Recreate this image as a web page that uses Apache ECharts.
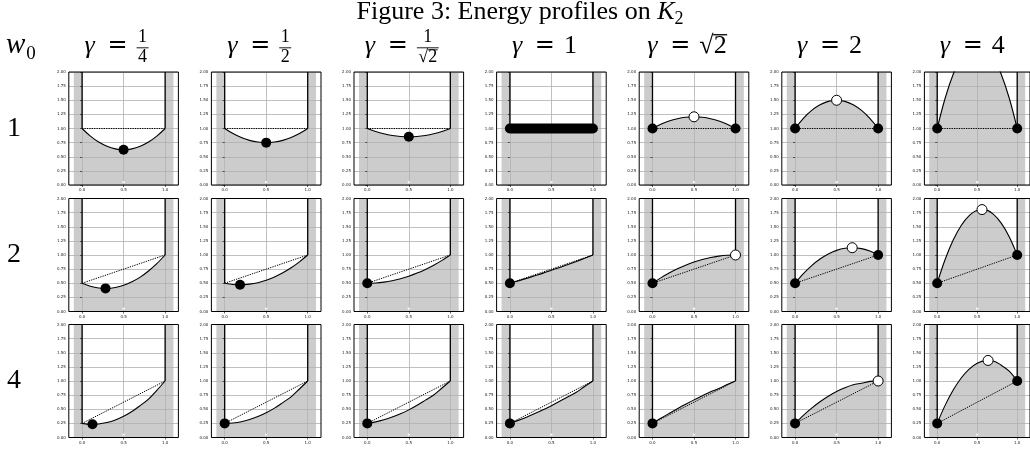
<!DOCTYPE html>
<html>
<head>
<meta charset="utf-8">
<title>Energy profiles on K2</title>
<script src="https://cdn.jsdelivr.net/npm/echarts@6/dist/echarts.min.js"></script>
<style>
  html, body { margin: 0; padding: 0; background: #fff; }
  #chart { width: 1030px; height: 449px; }
</style>
</head>
<body>
<div id="chart"></div>
<script>
// column / row headers
const gammaLabels = ['1/4', '1/2', '1/√2', '1', '√2', '2', '4']
const w0Labels = ['1', '2', '4']

// ticks
const xTicks = [0, 0.5, 1]
const yTicks = [0, 0.25, 0.5, 0.75, 1, 1.25, 1.5, 1.75, 2]
const xRange = [-0.16, 1.16]
const yRange = [0, 2]
const sideBands = [[-0.1, 0], [1, 1.1]]
const tickDot = [[0.5, 0.05]]

// sample positions of every profile
const xs = [0, 0.1, 0.2, 0.3, 0.4, 0.5, 0.6, 0.7, 0.8, 0.9, 1]

// energy profiles, one array per gamma
const energyW1 = [
  [1, 0.865, 0.76, 0.685, 0.64, 0.625, 0.64, 0.685, 0.76, 0.865, 1],
  [1, 0.91, 0.84, 0.79, 0.76, 0.75, 0.76, 0.79, 0.84, 0.91, 1],
  [1, 0.947, 0.906, 0.877, 0.859, 0.854, 0.859, 0.877, 0.906, 0.947, 1],
  [1, 1, 1, 1, 1, 1, 1, 1, 1, 1, 1],
  [1, 1.075, 1.133, 1.174, 1.199, 1.207, 1.199, 1.174, 1.133, 1.075, 1],
  [1, 1.18, 1.32, 1.42, 1.48, 1.5, 1.48, 1.42, 1.32, 1.18, 1],
  [1, 1.54, 1.96, 2.26, 2.44, 2.5, 2.44, 2.26, 1.96, 1.54, 1]
]
const energyW2 = [
  [0.5, 0.447, 0.417, 0.409, 0.425, 0.463, 0.525, 0.609, 0.717, 0.847, 1],
  [0.5, 0.479, 0.473, 0.484, 0.51, 0.552, 0.61, 0.684, 0.773, 0.879, 1],
  [0.5, 0.505, 0.52, 0.545, 0.58, 0.625, 0.68, 0.745, 0.82, 0.905, 1],
  [0.5, 0.542, 0.586, 0.632, 0.679, 0.729, 0.779, 0.832, 0.886, 0.942, 1],
  [0.5, 0.595, 0.68, 0.755, 0.82, 0.875, 0.92, 0.955, 0.98, 0.995, 1],
  [0.5, 0.67, 0.813, 0.929, 1.019, 1.082, 1.119, 1.129, 1.113, 1.07, 1],
  [0.5, 0.924, 1.265, 1.523, 1.698, 1.789, 1.798, 1.723, 1.565, 1.324, 1]
]
const energyW4 = [
  [0.25, 0.235, 0.24, 0.265, 0.31, 0.375, 0.46, 0.565, 0.68, 0.835, 1],
  [0.25, 0.258, 0.28, 0.318, 0.37, 0.438, 0.52, 0.618, 0.72, 0.858, 1],
  [0.25, 0.276, 0.313, 0.361, 0.42, 0.489, 0.57, 0.661, 0.753, 0.876, 1],
  [0.25, 0.303, 0.36, 0.423, 0.49, 0.563, 0.64, 0.723, 0.8, 0.903, 1],
  [0.25, 0.34, 0.426, 0.51, 0.589, 0.666, 0.739, 0.81, 0.866, 0.94, 1],
  [0.25, 0.393, 0.52, 0.633, 0.73, 0.813, 0.88, 0.933, 0.96, 0.993, 1],
  [0.25, 0.573, 0.84, 1.053, 1.21, 1.313, 1.36, 1.353, 1.28, 1.173, 1]
]

// local minima (black) and maxima (white)
const minW1 = [[[0.5, 0.625]], [[0.5, 0.75]], [[0.5, 0.854]], [], [[0, 1], [1, 1]], [[0, 1], [1, 1]], [[0, 1], [1, 1]]]
const maxW1 = [[], [], [], [], [[0.5, 1.207]], [[0.5, 1.5]], [[0.5, 2.5]]]
const minW2 = [[[0.282, 0.409]], [[0.185, 0.473]], [[0, 0.5]], [[0, 0.5]], [[0, 0.5]], [[0, 0.5], [1, 1]], [[0, 0.5], [1, 1]]]
const maxW2 = [[], [], [], [], [[1, 1]], [[0.688, 1.129]], [[0.56, 1.804]]]
const minW4 = [[[0.125, 0.234]], [[0, 0.25]], [[0, 0.25]], [[0, 0.25]], [[0, 0.25]], [[0, 0.25]], [[0, 0.25], [1, 1]]]
const maxW4 = [[], [], [], [], [], [[1, 1]], [[0.636, 1.364]]]
// whole segment is minimal (gamma = 1, w0 = 1)
const segMinW1 = [[], [], [], [[0, 1], [1, 1]], [], [], []]

const energyRows = [energyW1, energyW2, energyW4]
const minRows = [minW1, minW2, minW4]
const maxRows = [maxW1, maxW2, maxW4]
const segRows = [segMinW1, [], []]

// layout
const PANEL_X0 = 68.8
const COL_STEP = 142.6
const PANEL_W = 109.6
const PANEL_H = 113
const ROW_TOPS = [72, 198.5, 324.5]
const FILL = '#cccccc'
const SERIF = '"Liberation Serif", "DejaVu Serif", serif'
const MATH_EQ = '"DejaVu Serif", serif'
const SMOOTH = 0.35

const grids = []
const xAxes = []
const yAxes = []
const series = []

const tickLabel = { fontSize: 4, color: '#222', fontFamily: 'DejaVu Sans', margin: 3 }

energyRows.forEach((row, r) => {
  row.forEach((vals, c) => {
    const i = grids.length
    grids.push({
      left: PANEL_X0 + COL_STEP * c,
      top: ROW_TOPS[r],
      width: PANEL_W,
      height: PANEL_H,
      show: true,
      borderColor: '#000',
      borderWidth: 1,
      backgroundColor: 'transparent',
      z: 10
    })
    xAxes.push({
      gridIndex: i,
      type: 'value',
      min: xRange[0],
      max: xRange[1],
      z: 3,
      axisLine: { show: false },
      axisTick: { show: true, customValues: xTicks, length: 2, lineStyle: { color: '#000', width: 0.6 } },
      axisLabel: Object.assign({ customValues: xTicks, formatter: v => v.toFixed(1) }, tickLabel),
      splitLine: { show: true, lineStyle: { color: '#b0b0b0', width: 0.8 } }
    })
    yAxes.push({
      gridIndex: i,
      type: 'value',
      min: yRange[0],
      max: yRange[1],
      z: 3,
      axisLine: { show: false },
      axisTick: { show: true, customValues: yTicks, length: 2, lineStyle: { color: '#000', width: 0.6 } },
      axisLabel: Object.assign({ customValues: yTicks, formatter: v => v.toFixed(2) }, tickLabel),
      splitLine: { show: true, lineStyle: { color: '#b0b0b0', width: 0.8 } }
    })

    const pts = xs.map((x, k) => [x, vals[k]])
    const first = pts[0]
    const last = pts[pts.length - 1]
    const ax = { xAxisIndex: i, yAxisIndex: i, silent: true, animation: false }

    // grey region under the profile + side bands
    series.push(Object.assign({
      type: 'line',
      data: pts,
      smooth: SMOOTH,
      symbol: 'none',
      lineStyle: { width: 0 },
      areaStyle: { color: FILL, opacity: 1 },
      z: 1,
      markArea: {
        silent: true,
        itemStyle: { color: FILL },
        data: sideBands.map(b => [{ xAxis: b[0] }, { xAxis: b[1] }])
      }
    }, ax))
    // profile curve
    series.push(Object.assign({
      type: 'line',
      data: pts,
      smooth: SMOOTH,
      symbol: 'none',
      lineStyle: { color: '#000', width: 1.1 },
      z: 5
    }, ax))
    // walls
    series.push(Object.assign({
      type: 'line', data: [[first[0], yRange[1]], first], symbol: 'none',
      lineStyle: { color: '#000', width: 1.3 }, z: 5
    }, ax))
    series.push(Object.assign({
      type: 'line', data: [last, [last[0], yRange[1]]], symbol: 'none',
      lineStyle: { color: '#000', width: 1.3 }, z: 5
    }, ax))
    // chord
    series.push(Object.assign({
      type: 'line', data: [first, last], symbol: 'none',
      lineStyle: { color: '#000', width: 1, type: [1.3, 1.1] }, z: 4
    }, ax))
    // minima / maxima
    const seg = segRows[r][c]
    if (seg && seg.length) {
      series.push(Object.assign({
        type: 'line', data: seg, symbol: 'none',
        lineStyle: { color: '#000', width: 10, cap: 'round' }, z: 6
      }, ax))
    }
    series.push(Object.assign({
      type: 'scatter', data: minRows[r][c], symbolSize: 10,
      itemStyle: { color: '#000', opacity: 1 }, z: 6
    }, ax))
    series.push(Object.assign({
      type: 'scatter', data: maxRows[r][c], symbolSize: 10,
      itemStyle: { color: '#fff', borderColor: '#000', borderWidth: 1, opacity: 1 }, z: 6
    }, ax))
    series.push(Object.assign({
      type: 'scatter', data: tickDot, symbol: 'rect', symbolSize: 2.2,
      itemStyle: { color: '#f4f4f4', opacity: 1 }, z: 6
    }, ax))
  })
})

// ---- text (title, headers, row labels) ----
const mctx = document.createElement('canvas').getContext('2d')
function fnt(size, italic, fam) {
  return (italic ? 'italic ' : '') + size + 'px ' + (fam || SERIF)
}
function textW(t, size, italic, fam) {
  mctx.font = fnt(size, italic, fam)
  return mctx.measureText(t).width
}
function txt(t, x, base, size, italic, align, fam) {
  return {
    type: 'text', x: x, y: base - size * 0.33, silent: true, z: 20,
    style: {
      text: t, font: fnt(size, italic, fam), fill: '#000',
      align: align || 'left', verticalAlign: 'middle',
      textAlign: align || 'left', textVerticalAlign: 'middle'
    }
  }
}
function hline(x1, x2, y, w) {
  return {
    type: 'line', silent: true, z: 20,
    shape: { x1: x1, y1: y, x2: x2, y2: y },
    style: { stroke: '#000', lineWidth: w || 0.9 }
  }
}
// number that may start with a radical sign
function radEls(t, x, base, size) {
  if (t[0] !== '√') return [txt(t, x, base, size, false)]
  const rw = textW('√', size, false)
  const bw = textW(t.slice(1), size, false)
  return [
    txt('√', x, base, size, false),
    txt(t.slice(1), x + rw, base, size, false),
    hline(x + rw - 0.5, x + rw + bw + 0.5, base - size * 0.76, size * 0.05)
  ]
}

const HEAD_BASE = 54.5
const HEAD_SIZE = 26
const FRAC_SIZE = 18
const EQ_AT = 33    // centre of "=" from the left of the header
const VAL_AT = 52   // start of the value from the left of the header
const els = []

gammaLabels.forEach((label, c) => {
  const cx = PANEL_X0 + COL_STEP * c + PANEL_W / 2 - 7
  let valW
  let parts
  if (label.indexOf('/') >= 0) {
    const [num, den] = label.split('/')
    const nw = textW(num, FRAC_SIZE, false)
    const dw = textW(den, FRAC_SIZE, false)
    valW = Math.max(nw, dw) + 3
    parts = x0 => [].concat(
      radEls(num, x0 + (valW - nw) / 2, 43.5, FRAC_SIZE),
      [hline(x0, x0 + valW, 47.8, 0.9)],
      radEls(den, x0 + (valW - dw) / 2, 63.5, FRAC_SIZE)
    )
  } else {
    valW = textW(label, HEAD_SIZE, false)
    parts = x0 => radEls(label, x0, HEAD_BASE, HEAD_SIZE)
  }
  const x0 = cx - (VAL_AT + valW) / 2
  els.push(txt('γ', x0, HEAD_BASE, HEAD_SIZE, true))
  els.push(txt('=', x0 + EQ_AT, HEAD_BASE - 1, 24, false, 'center', MATH_EQ))
  parts(x0 + VAL_AT).forEach(e => els.push(e))
})

// row labels
els.push(txt('w', 6, 55, 29, true))
els.push(txt('0', 6 + textW('w', 29, true) + 1, 60, 19, false))
w0Labels.forEach((label, r) => {
  els.push(txt(label, 14, ROW_TOPS[r] + PANEL_H / 2 + 9, 28, false, 'center'))
})

// title
const TITLE_SIZE = 26
const tA = 'Figure 3: Energy profiles on '
const tAw = textW(tA, TITLE_SIZE, false)
const tKw = textW('K', TITLE_SIZE, true)
const tSw = textW('2', 18, false)
const tX0 = 520 - (tAw + tKw + tSw) / 2
els.push(txt(tA, tX0, 21, TITLE_SIZE, false))
els.push(txt('K', tX0 + tAw, 21, TITLE_SIZE, true))
els.push(txt('2', tX0 + tAw + tKw, 25.5, 18, false))

const chart = echarts.init(document.getElementById('chart'))
chart.setOption({
  animation: false,
  backgroundColor: '#fff',
  grid: grids,
  xAxis: xAxes,
  yAxis: yAxes,
  series: series,
  graphic: { elements: els }
})
</script>
</body>
</html>
